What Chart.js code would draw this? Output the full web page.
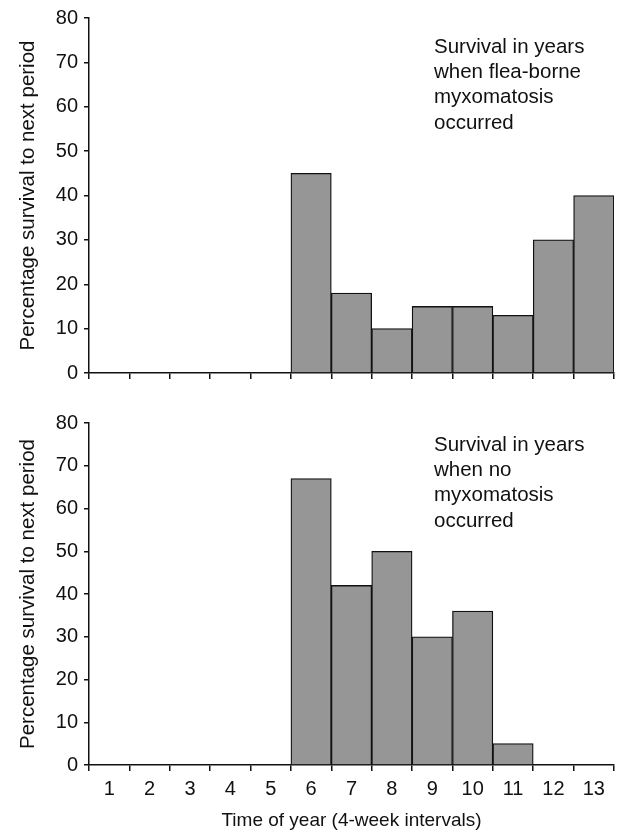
<!DOCTYPE html>
<html>
<head>
<meta charset="utf-8">
<script src="https://cdn.jsdelivr.net/npm/chart.js@4/dist/chart.umd.min.js"></script>
<style>
  html, body { margin: 0; padding: 0; background: #fff; }
  .panel { position: absolute; left: 0; width: 622px; }
  #topPanel { top: 0; height: 395px; }
  #bottomPanel { top: 400px; height: 435px; }
</style>
</head>
<body>
<div class="panel" id="topPanel"><canvas id="topChart"></canvas></div>
<div class="panel" id="bottomPanel"><canvas id="bottomChart"></canvas></div>
<script>
// Time of year, 4-week intervals
const periods = ['1', '2', '3', '4', '5', '6', '7', '8', '9', '10', '11', '12', '13'];

// Percentage survival to next period
const fleaMyxoSurvival = [null, null, null, null, null, 45, 18, 10, 15, 15, 13, 30, 40];
const noMyxoSurvival = [null, null, null, null, null, 67, 42, 50, 30, 36, 5, null, null];

const yTicks = [0, 10, 20, 30, 40, 50, 60, 70, 80];

const fleaNote = ['Survival in years', 'when flea-borne', 'myxomatosis', 'occurred'];
const noMyxoNote = ['Survival in years', 'when no', 'myxomatosis', 'occurred'];

Chart.defaults.font.family = '"Liberation Sans", Arial, sans-serif';
Chart.defaults.color = '#111';
Chart.defaults.animation = false;

// draws the little text block in the upper right of each panel
const notePlugin = {
  id: 'note',
  afterDraw(chart, args, opts) {
    const ctx = chart.ctx;
    ctx.save();
    ctx.font = '20.5px "Liberation Sans", Arial, sans-serif';
    ctx.fillStyle = '#111';
    ctx.textBaseline = 'middle';
    ctx.textAlign = 'left';
    opts.lines.forEach((line, i) => {
      ctx.fillText(line, chart.chartArea.left + 345, opts.top + i * 25.3);
    });
    ctx.restore();
  }
};

function makePanel(canvasId, values, note, showLabels) {
  const ctx = document.getElementById(canvasId).getContext('2d');
  return new Chart(ctx, {
    type: 'bar',
    data: {
      labels: periods,
      datasets: [{
        data: values,
        backgroundColor: '#969696',
        borderColor: '#111',
        borderWidth: 1.3,
        borderSkipped: 'start',
        barPercentage: 1,
        categoryPercentage: 1
      }]
    },
    options: {
      responsive: true,
      maintainAspectRatio: false,
      layout: { padding: { left: 14, right: 8, top: showLabels ? 23 : 18, bottom: 0 } },
      plugins: {
        legend: { display: false },
        tooltip: { enabled: false },
        note: note
      },
      scales: {
        x: {
          type: 'category',
          offset: true,
          grid: {
            offset: true,
            drawOnChartArea: false,
            drawTicks: true,
            tickLength: 6,
            color: '#111',
            lineWidth: 1.5
          },
          border: { display: true, color: '#111', width: 1.5 },
          ticks: {
            display: true,
            color: showLabels ? '#111' : 'rgba(0,0,0,0)',
            font: { size: 20 },
            padding: 6,
            maxRotation: 0
          },
          title: {
            display: showLabels,
            text: 'Time of year (4-week intervals)',
            font: { size: 19 },
            color: '#111',
            padding: { top: 4, bottom: 3 }
          },
          afterFit(scale) { scale.height = showLabels ? 70 : 22; }
        },
        y: {
          min: 0,
          max: 80,
          afterBuildTicks(scale) { scale.ticks = yTicks.map(v => ({ value: v })); },
          grid: {
            drawOnChartArea: false,
            drawTicks: true,
            tickLength: 5,
            color: '#111',
            lineWidth: 1.5
          },
          border: { display: true, color: '#111', width: 1.5 },
          ticks: {
            font: { size: 20 },
            color: '#111',
            padding: 6
          },
          title: {
            display: true,
            text: 'Percentage survival to next period',
            font: { size: 20.5 },
            color: '#111',
            padding: { top: 2, bottom: 2 }
          },
          afterFit(scale) { scale.width = 75; }
        }
      }
    },
    plugins: [notePlugin]
  });
}

makePanel('topChart', fleaMyxoSurvival, { lines: fleaNote, top: 47 }, false);
makePanel('bottomChart', noMyxoSurvival, { lines: noMyxoNote, top: 45 }, true);
</script>
</body>
</html>
